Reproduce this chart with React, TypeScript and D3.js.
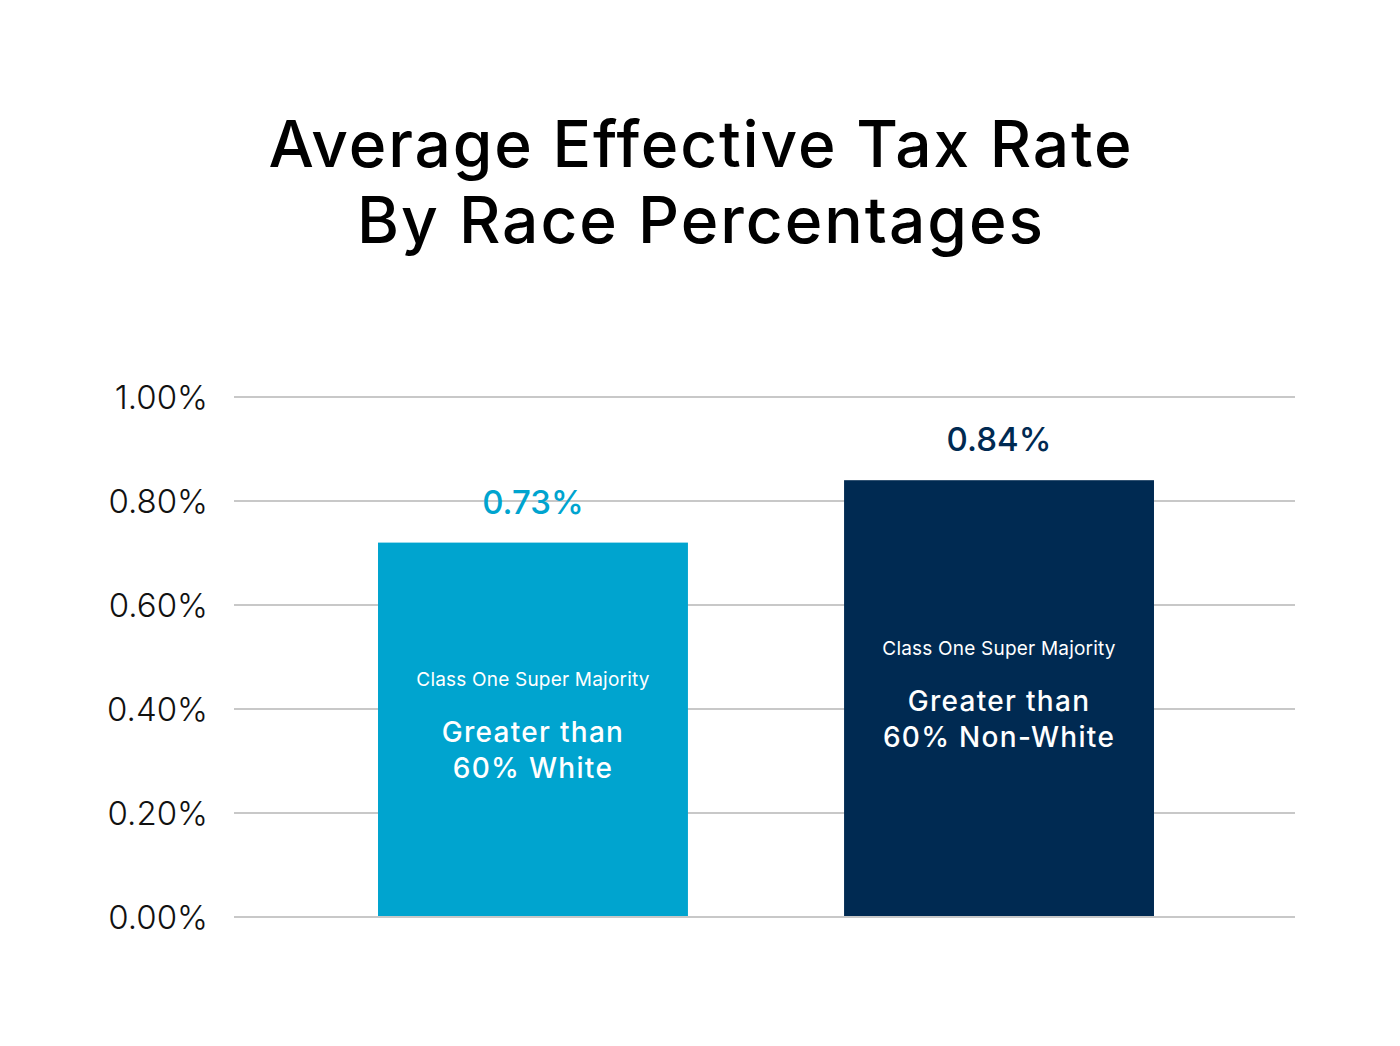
import { useEffect, useRef } from "react";
import * as d3 from "d3";

const categories = ["White", "Non-White"];
const barValues = [0.72, 0.84];
const valueLabels = ["0.73%", "0.84%"];
const classLabels = ["Class One Super Majority", "Class One Super Majority"];
const barLines = [
  ["Greater than", "60% White"],
  ["Greater than", "60% Non-White"],
];
const yTicks = [0, 0.2, 0.4, 0.6, 0.8, 1.0];
const titleLines = ["Average Effective Tax Rate", "By Race Percentages"];

const colors = ["#00a4cf", "#002a52"];
const FONT = "Inter, 'Open Sans', sans-serif";

export default function App() {
  const svgRef = useRef<SVGSVGElement>(null);

  useEffect(() => {
    if (!svgRef.current) return;
    const svg = d3.select(svgRef.current);
    svg.selectAll("*").remove();

    const width = 1400;
    const height = 1046;
    const margin = { top: 397, right: 105, bottom: 129, left: 234 };

    svg.append("rect").attr("width", width).attr("height", height).attr("fill", "#fff");

    // Title
    svg
      .append("g")
      .selectAll("text")
      .data(titleLines)
      .enter()
      .append("text")
      .attr("x", 700)
      .attr("y", (_d, i) => 167 + i * 76)
      .attr("text-anchor", "middle")
      .style("font-family", FONT)
      .style("font-size", "64px")
      .style("font-weight", 500)
      .style("fill", "#000")
      .attr("textLength", (_d, i) => (i === 0 ? 863 : 686))
      .attr("lengthAdjust", "spacing")
      .text((d) => d);

    const x = d3
      .scaleBand<string>()
      .domain(categories)
      .range([margin.left, width - margin.right + 3])
      .paddingInner(0.335)
      .paddingOuter(0.309);

    const y = d3
      .scaleLinear()
      .domain([0, 1])
      .range([height - margin.bottom, margin.top]);

    // Gridlines
    svg
      .append("g")
      .selectAll("line")
      .data(yTicks)
      .enter()
      .append("line")
      .attr("x1", margin.left)
      .attr("x2", width - margin.right)
      .attr("y1", (d) => y(d))
      .attr("y2", (d) => y(d))
      .attr("stroke", "#c8c8c8")
      .attr("stroke-width", 2);

    // Y tick labels
    svg
      .append("g")
      .selectAll("text")
      .data(yTicks)
      .enter()
      .append("text")
      .attr("x", 208)
      .attr("y", (d) => y(d) + 12)
      .attr("text-anchor", "end")
      .style("font-family", FONT)
      .style("font-size", "33px")
      .style("font-weight", 300)
      .style("fill", "#111")
      .text((d) => d.toFixed(2) + "%");

    // Bars
    const bars = svg
      .append("g")
      .selectAll("g")
      .data(categories)
      .enter()
      .append("g");

    bars
      .append("rect")
      .attr("x", (d) => x(d)!)
      .attr("width", x.bandwidth())
      .attr("y", (_d, i) => y(barValues[i]))
      .attr("height", (_d, i) => y(0) - y(barValues[i]) - 1)
      .attr("fill", (_d, i) => colors[i]);

    // Value labels
    bars
      .append("text")
      .attr("x", (d) => x(d)! + x.bandwidth() / 2)
      .attr("y", (_d, i) => y(barValues[i]) - 29)
      .attr("text-anchor", "middle")
      .style("font-family", FONT)
      .style("font-size", "33px")
      .style("font-weight", 500)
      .style("fill", (_d, i) => colors[i])
      .text((_d, i) => valueLabels[i]);

    // Inside labels
    const mid = (i: number) => (y(barValues[i]) + y(0)) / 2;

    bars
      .append("text")
      .attr("x", (d) => x(d)! + x.bandwidth() / 2)
      .attr("y", (_d, i) => mid(i) - 52 + 8)
      .attr("text-anchor", "middle")
      .style("font-family", FONT)
      .style("font-size", "19px")
      .style("font-weight", 400)
      .style("letter-spacing", "0.2px")
      .style("fill", "#fff")
      .text((_d, i) => classLabels[i]);

    bars.each(function (_d, i) {
      d3.select(this)
        .selectAll("text.line")
        .data(barLines[i])
        .enter()
        .append("text")
        .attr("class", "line")
        .attr("x", x(categories[i])! + x.bandwidth() / 2)
        .attr("y", (_l, j) => mid(i) + 12 + j * 36)
        .attr("text-anchor", "middle")
        .style("font-family", FONT)
        .style("font-size", "28px")
        .style("font-weight", 500)
        .style("letter-spacing", "1.3px")
        .style("fill", "#fff")
        .text((l) => l);
    });
  }, []);

  return (
    <svg
      ref={svgRef}
      width={1400}
      height={1046}
      style={{ position: "absolute", left: 0, top: 0 }}
    />
  );
}
